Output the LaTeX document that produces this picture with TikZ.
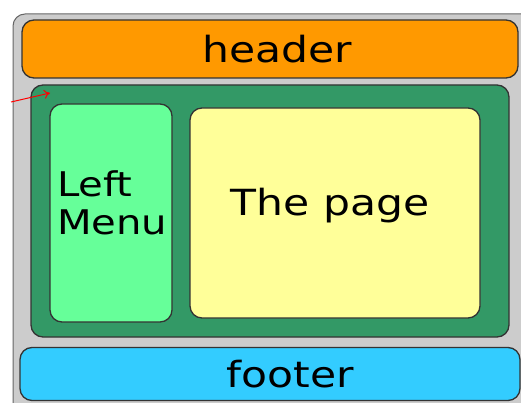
\documentclass[tikz,border=0pt]{standalone}
\usepackage{fontspec}
\setmainfont{DejaVu Sans}
\usetikzlibrary{arrows.meta}
\begin{document}
\begin{tikzpicture}[x=1pt,y=-1pt,
  box/.style={draw=black!80, line width=1.3pt, rounded corners=12pt, inner sep=0pt},
  lbl/.style={font=\fontsize{36}{40}\selectfont, text=black, xscale=1.18}]
\useasboundingbox (0,0) rectangle (521,403);
\definecolor{bggray}{HTML}{CCCCCC}
\definecolor{hdr}{HTML}{FF9900}
\definecolor{grn}{HTML}{339966}
\definecolor{lgrn}{HTML}{66FF99}
\definecolor{ylw}{HTML}{FFFF99}
\definecolor{ftr}{HTML}{33CCFF}
\begin{scope}
\clip (0,0) rectangle (521,403);
\fill[bggray, draw=black!60, line width=1pt, rounded corners=12pt] (13,14) rectangle (535,420);
\end{scope}
\node[box, fill=hdr, minimum width=496pt, minimum height=58pt] (header) at (270,49) {};
\node[lbl] (headertext) at (277,49) {header};
\node[box, fill=grn, minimum width=478pt, minimum height=252pt] (main) at (270,211) {};
\node[box, fill=lgrn, minimum width=122pt, minimum height=218pt] (menu) at (111,213) {};
\node[lbl, align=left, anchor=west, font=\fontsize{34}{38}\selectfont, xscale=1.0] (menutext) at (53,203) {Left\\Menu};
\node[box, fill=ylw, minimum width=290pt, minimum height=210pt] (page) at (335,213) {};
\node[lbl] (pagetext) at (330,206) {The page};
\node[box, fill=ftr, minimum width=500pt, minimum height=53pt] (footer) at (270,374) {};
\node[lbl] (footertext) at (290,374) {footer};
\coordinate (arrstart) at (11,102);
\coordinate (arrend) at (50,93);
\draw[red, line width=1pt, -{To[length=6pt,width=9pt]}] (arrstart) -- (arrend);
\end{tikzpicture}
\end{document}
